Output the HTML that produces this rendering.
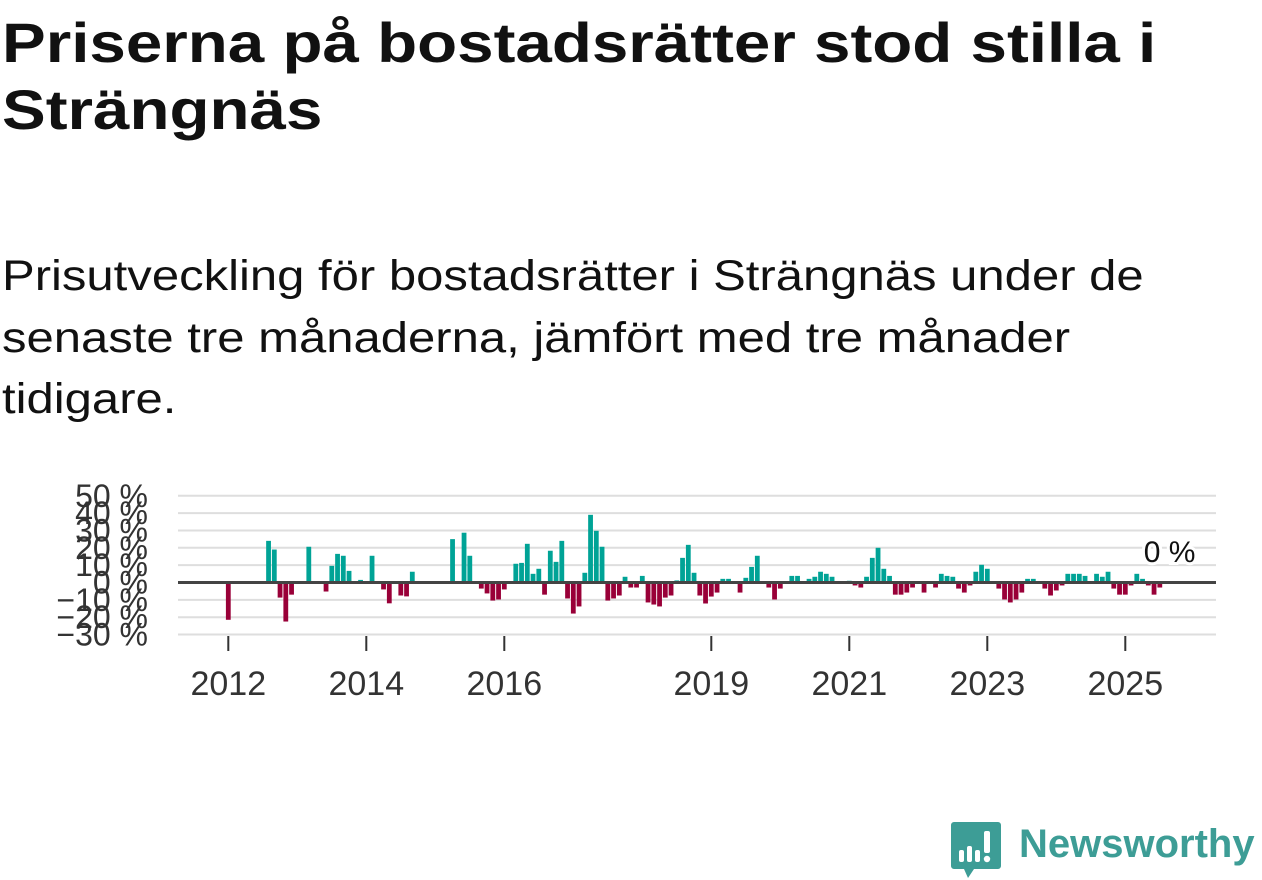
<!DOCTYPE html>
<html><head><meta charset="utf-8">
<style>
body{margin:0;width:1262px;height:879px;background:#fff;overflow:hidden;font-family:"Liberation Sans","DejaVu Sans",sans-serif;color:#111;position:relative}
.ln{position:absolute;left:2px;white-space:nowrap;transform-origin:0 0}
.t{font-size:56px;font-weight:bold;transform:scaleX(1.17)}
.s{font-size:43px;transform:scaleX(1.14)}
svg{position:absolute;left:0;top:0}
</style></head><body>
<div>
<div class="ln t" style="top:10px">Priserna på bostadsrätter stod stilla i</div>
<div class="ln t" style="top:77px">Strängnäs</div>
</div>
<div>
<div class="ln s" style="top:252px">Prisutveckling för bostadsrätter i Strängnäs under de</div>
<div class="ln s" style="top:314px">senaste tre månaderna, jämfört med tre månader</div>
<div class="ln s" style="top:375px">tidigare.</div>
</div>
<svg id="chart" width="1262" height="879"></svg>
<svg width="60" height="60" style="left:950px;top:820px">
<path d="M4 2h44a3 3 0 0 1 3 3v41a3 3 0 0 1-3 3H24l-6 9-4-9H4a3 3 0 0 1-3-3V5a3 3 0 0 1 3-3z" fill="#3d9d96"/>
<rect x="9" y="30" width="5" height="12" rx="2" fill="#fff"/><rect x="17" y="26" width="5" height="16" rx="2" fill="#fff"/><rect x="25" y="30" width="5" height="12" rx="2" fill="#fff"/><rect x="34" y="11" width="6" height="22" rx="2" fill="#fff"/><circle cx="37" cy="39" r="3.2" fill="#fff"/>
</svg>
<div style="position:absolute;left:1019px;top:818px;font-size:40px;font-weight:bold;color:#3d9d96;line-height:52px">Newsworthy</div>
<script>
const monthIdx=[0,7,8,9,10,11,14,17,18,19,20,21,23,25,27,28,30,31,32,39,41,42,44,45,46,47,48,50,51,52,53,54,55,56,57,58,59,60,61,62,63,64,65,66,67,68,69,70,71,72,73,74,75,76,77,78,79,80,81,82,83,84,85,86,87,89,90,91,92,94,95,96,98,99,101,102,103,104,105,108,109,110,111,112,113,114,115,116,117,118,119,121,123,124,125,126,127,128,129,130,131,132,134,135,136,137,138,139,140,142,143,144,145,146,147,148,149,151,152,153,154,155,156,157,158,159,160,161,162,163];
const values=[-21.5,24,19,-8.7,-22.5,-7,20.6,-5.2,9.6,16.5,15.4,6.7,1.5,15.4,-4,-12,-7.5,-8,6.2,25,28.7,15.4,-3.5,-6.3,-10.4,-9.8,-4,10.8,11.3,22.3,5,7.9,-7,18.3,11.9,24,-9.2,-17.9,-13.8,5.6,39,29.8,20.6,-10.4,-9.2,-7.5,3.3,-2.9,-2.9,3.8,-11.5,-12.7,-13.8,-8.7,-7.5,1.2,14.2,21.7,5.6,-7.5,-12.1,-8.1,-5.8,2.1,2.1,-5.8,2.7,9,15.4,-2.9,-9.8,-3.5,3.8,3.8,2.1,3.3,6.2,5,3.3,1,-1.7,-2.9,3.3,14.2,20,7.9,3.8,-7,-7,-5.8,-2.9,-5.8,-2.9,5,3.8,3.3,-3.5,-5.8,-1.7,6.2,10.2,7.9,-3.5,-9.8,-11.5,-9.8,-5.8,2.1,2.1,-3.5,-7.5,-4.6,-1.7,5,5,5,3.8,5,3.3,6.2,-3.5,-7,-7,-1.7,5,2.1,-1.7,-7,-2.9,0];
const yTicks=[50,40,30,20,10,0,-10,-20,-30];
const xTickYears=[2012,2014,2016,2019,2021,2023,2025];
const lastLabel="0 %";
const svg=document.getElementById('chart');const NS='http://www.w3.org/2000/svg';
const x=i=>228.3+5.75*i;
const y=v=>582.5-v*1.735;
const xYear=yr=>x((yr-2012)*12);
function mk(t,a){const e=document.createElementNS(NS,t);for(const k in a)e.setAttribute(k,a[k]);svg.appendChild(e);return e;}
yTicks.forEach(v=>{
 if(v!==0){const l=mk('line',{x1:178,x2:1216,y1:y(v),y2:y(v),stroke:'#dedede','stroke-width':2});
 
 }
 const t=mk('text',{x:148,y:y(v)+11,'text-anchor':'end','font-size':32,fill:'#333','font-family':'Liberation Sans, sans-serif'});
 t.textContent=(v<0?'\u2212'+(-v):v)+' %';
 
 
});
monthIdx.forEach((m,k)=>{const v=values[k];if(v===0)return;
 const r=mk('rect',{x:x(m)-2.4,width:4.8,y:v>0?y(v):y(0),height:Math.abs(y(v)-y(0)),fill:v>0?'#00a396':'#990038'});
 
 
});
const zl=mk('line',{x1:178,x2:1216,y1:y(0),y2:y(0),stroke:'#444','stroke-width':3});


xTickYears.forEach(yr=>{
 const t=mk('line',{x1:xYear(yr),x2:xYear(yr),y1:636,y2:651,stroke:'#333','stroke-width':2});
 
 
 const l=mk('text',{x:xYear(yr),y:695,'text-anchor':'middle','font-size':34,fill:'#333','font-family':'Liberation Sans, sans-serif'});
 l.textContent=yr;
 
 
});
const lm=monthIdx[monthIdx.length-1];
const lb=mk('text',{x:x(lm)+4,y:562,'text-anchor':'middle','font-size':30,fill:'#111',stroke:'#fff','stroke-width':6,'paint-order':'stroke','font-family':'Liberation Sans, sans-serif'});
lb.textContent=lastLabel;


</script>
</body></html>
